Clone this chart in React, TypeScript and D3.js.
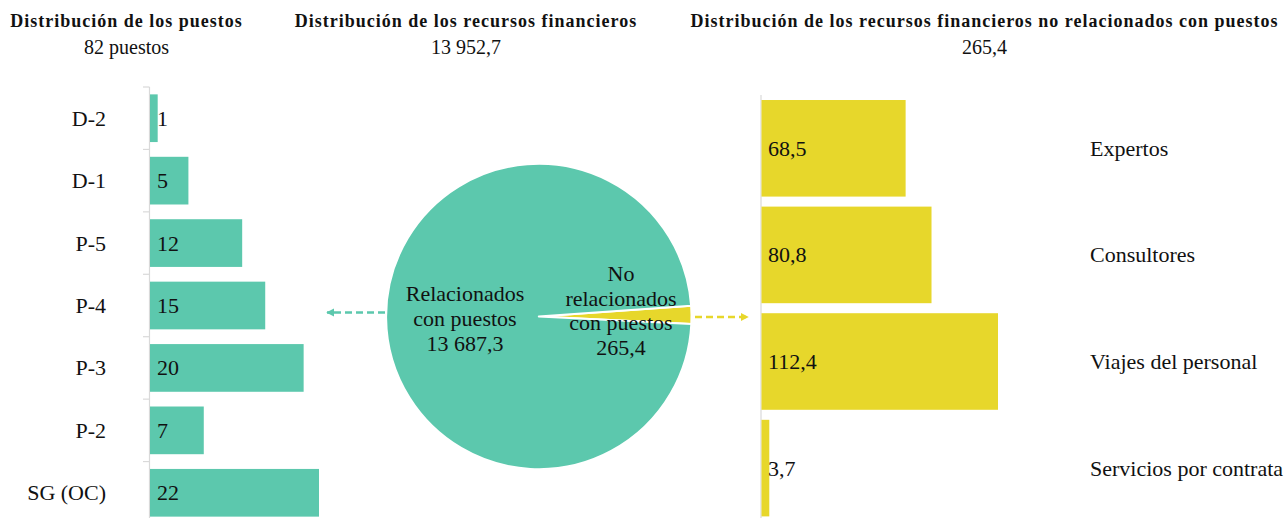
import React from "react";
import * as d3 from "d3";

const postCategories = ["D-2", "D-1", "P-5", "P-4", "P-3", "P-2", "SG (OC)"];
const postValues = [1, 5, 12, 15, 20, 7, 22];

const pieLabels = ["No relacionados con puestos", "Relacionados con puestos"];
const pieValues = [265.4, 13687.3];

const nonPostCategories = ["Expertos", "Consultores", "Viajes del personal", "Servicios por contrata"];
const nonPostValues = [68.5, 80.8, 112.4, 3.7];
const nonPostLabels = ["68,5", "80,8", "112,4", "3,7"];

const titles = [
  "Distribución de los puestos",
  "Distribución de los recursos financieros",
  "Distribución de los recursos financieros no relacionados con puestos",
];
const subtitles = ["82 puestos", "13 952,7", "265,4"];

const TEAL = "#5cc8ad";
const YELLOW = "#e7d72b";
const AXIS = "#d9d9d9";
const FONT = "'Liberation Serif', 'Times New Roman', serif";
const FS = 22;

export default function App() {
  const W = 1286;
  const H = 518;

  // left bar chart
  const yL = d3.scaleBand<string>().domain(postCategories).range([87, 524]).paddingInner(0.236).paddingOuter(0.118);
  const xL = d3.scaleLinear().domain([0, 22]).range([150, 319]);

  // right bar chart
  const yR = d3.scaleBand<string>().domain(nonPostCategories).range([95, 521.4]).paddingInner(0.094).paddingOuter(0.047);
  const xR = d3.scaleLinear().domain([0, 112.4]).range([761.5, 998]);

  // pie
  const cx = 538.8;
  const cy = 316.5;
  const r = 152.7;
  const start = (86 * Math.PI) / 180;
  const pie = d3.pie<number>().sort(null).startAngle(start).endAngle(start + 2 * Math.PI);
  const arcs = pie(pieValues);
  const arcGen = d3.arc<d3.PieArcDatum<number>>().innerRadius(0).outerRadius(r);
  const pieColors = [YELLOW, TEAL];

  const titleX = [126.5, 466, 984.5];

  return (
    <svg width={W} height={H} style={{ position: "absolute", left: 0, top: 0 }} fontFamily={FONT}>
      <rect width={W} height={H} fill="#fff" />
      <defs>
        <marker id="arrowTeal" viewBox="0 0 10 10" refX="9" refY="5" markerWidth="3" markerHeight="3.4" orient="auto">
          <path d="M0,0 L10,5 L0,10 z" fill={TEAL} />
        </marker>
        <marker id="arrowYellow" viewBox="0 0 10 10" refX="9" refY="5" markerWidth="3" markerHeight="3.4" orient="auto">
          <path d="M0,0 L10,5 L0,10 z" fill={YELLOW} />
        </marker>
      </defs>

      {titles.map((t, i) => (
        <g key={t}>
          <text x={titleX[i]} y={27} textAnchor="middle" fontWeight="bold" fontSize={18} letterSpacing={1} fill="#111">
            {t}
          </text>
          <text x={titleX[i]} y={54} textAnchor="middle" fontSize={20} fill="#111">
            {subtitles[i]}
          </text>
        </g>
      ))}

      {/* left axis */}
      <line x1={149.5} x2={149.5} y1={yL.range()[0]} y2={H} stroke={AXIS} strokeWidth={1.2} />
      {postCategories.map((c) => {
        const y0 = (yL(c) as number) - (yL.step() - yL.bandwidth()) / 2;
        return <line key={"t" + c} x1={143} x2={149.5} y1={y0} y2={y0} stroke={AXIS} strokeWidth={1.2} />;
      })}
      {postCategories.map((c, i) => {
        const y = yL(c) as number;
        const mid = y + yL.bandwidth() / 2;
        return (
          <g key={c}>
            <rect x={xL(0)} y={y} width={xL(postValues[i]) - xL(0)} height={yL.bandwidth()} fill={TEAL} />
            <text x={106} y={mid} dy="0.34em" textAnchor="end" fontSize={FS} fill="#111">
              {c}
            </text>
            <text x={157} y={mid} dy="0.34em" fontSize={FS} fill="#111">
              {postValues[i]}
            </text>
          </g>
        );
      })}

      {/* pie */}
      <g transform={`translate(${cx},${cy})`}>
        {arcs.map((a, i) => (
          <path key={pieLabels[i]} d={arcGen(a) as string} fill={pieColors[i]} stroke="#fff" strokeWidth={2} strokeLinejoin="round" />
        ))}
      </g>
      <text x={465} y={301} textAnchor="middle" fontSize={FS} fill="#111">
        <tspan x={465}>Relacionados</tspan>
        <tspan x={465} dy={25}>con puestos</tspan>
        <tspan x={465} dy={24.5}>13 687,3</tspan>
      </text>
      <text x={621} y={280.5} textAnchor="middle" fontSize={FS} fill="#111">
        <tspan x={621}>No</tspan>
        <tspan x={621} dy={25}>relacionados</tspan>
        <tspan x={621} dy={24.5}>con puestos</tspan>
        <tspan x={621} dy={25}>265,4</tspan>
      </text>

      {/* arrows */}
      <line x1={385} x2={327} y1={312.5} y2={312.5} stroke={TEAL} strokeWidth={2.6} strokeDasharray="7,4" markerEnd="url(#arrowTeal)" />
      <line x1={695} x2={748} y1={317} y2={317} stroke={YELLOW} strokeWidth={2.6} strokeDasharray="7,4" markerEnd="url(#arrowYellow)" />

      {/* right axis */}
      <line x1={761} x2={761} y1={95} y2={H} stroke={AXIS} strokeWidth={1.2} />
      {nonPostCategories.map((c, i) => {
        const y = yR(c) as number;
        const mid = y + yR.bandwidth() / 2;
        return (
          <g key={c}>
            <rect x={xR(0)} y={y} width={xR(nonPostValues[i]) - xR(0)} height={yR.bandwidth()} fill={YELLOW} />
            <text x={768} y={mid} dy="0.34em" fontSize={FS} fill="#111">
              {nonPostLabels[i]}
            </text>
            <text x={1090} y={mid} dy="0.34em" fontSize={FS} fill="#111">
              {c}
            </text>
          </g>
        );
      })}
    </svg>
  );
}
